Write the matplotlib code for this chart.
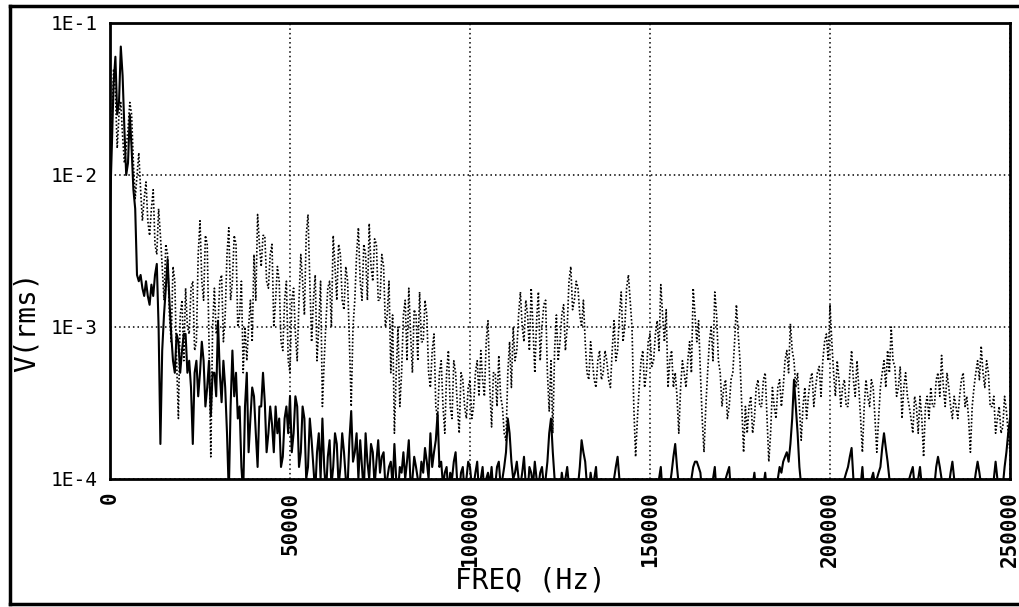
import numpy as np
import matplotlib
matplotlib.use("Agg")
import matplotlib.pyplot as plt
from matplotlib.lines import Line2D

# spectrum read every 1 kHz (0 .. 250 kHz) plus the half-kHz points between
freq_khz = np.arange(0, 251)
half_khz = np.arange(0, 250) + 0.5

# upper trace (dotted), V(rms) in mV, at the whole-kHz points
upper_mv = [
    30, 50, 15, 30, 12, 20, 25, 7, 14, 5,
    9, 4, 8, 3, 4, 1.5, 3, 0.8, 2, 0.25,
    1.5, 1.8, 0.9, 2.0, 0.8, 5.0, 1.5, 3.5, 0.14, 1.8,
    1.0, 2.2, 1.2, 4.5, 2.0, 3.5, 1.2, 0.5, 0.6, 1.5,
    3.0, 5.5, 2.5, 4.0, 1.8, 3.5, 1.5, 2.0, 0.7, 2.0,
    0.5, 1.8, 0.6, 3.0, 1.2, 5.5, 0.8, 2.2, 1.0, 0.3,
    1.1, 2.0, 4.0, 1.5, 3.0, 1.3, 2.0, 0.3, 1.5, 4.5,
    1.5, 3.0, 4.8, 2.0, 3.5, 1.5, 2.5, 1.2, 0.5, 0.2,
    1.0, 0.5, 1.5, 1.8, 0.5, 1.2, 1.7, 0.8, 1.2, 0.4,
    0.9, 0.25, 0.6, 0.2, 0.7, 0.25, 0.5, 0.2, 0.45, 0.25,
    0.45, 0.3, 0.6, 0.7, 0.35, 1.1, 0.22, 0.5, 0.65, 0.3,
    0.18, 0.8, 1.0, 0.7, 1.7, 0.8, 1.2, 1.8, 0.5, 1.7,
    1.0, 1.5, 0.28, 0.2, 1.2, 0.8, 1.4, 1.0, 2.5, 1.5,
    1.8, 1.0, 0.8, 0.45, 0.6, 0.4, 0.7, 0.5, 0.6, 0.4,
    1.1, 0.7, 1.7, 1.0, 2.2, 1.0, 0.14, 0.4, 0.7, 0.5,
    0.9, 0.6, 1.1, 1.9, 0.8, 0.4, 0.7, 0.5, 0.2, 0.6,
    0.4, 0.8, 1.8, 0.8, 0.5, 0.15, 0.5, 1.0, 1.7, 0.6,
    0.3, 0.45, 0.3, 0.5, 1.4, 0.6, 0.15, 0.2, 0.35, 0.25,
    0.45, 0.3, 0.5, 0.13, 0.4, 0.25, 0.45, 0.4, 0.7, 1.05,
    0.6, 0.5, 0.18, 0.4, 0.35, 0.5, 0.4, 0.55, 0.6, 0.9,
    1.4, 0.5, 0.6, 0.3, 0.45, 0.3, 0.7, 0.35, 0.4, 0.15,
    0.45, 0.3, 0.4, 0.15, 0.4, 0.6, 0.7, 1.0, 0.55, 0.4,
    0.25, 0.5, 0.3, 0.2, 0.3, 0.35, 0.14, 0.35, 0.4, 0.3,
    0.5, 0.65, 0.3, 0.4, 0.25, 0.3, 0.35, 0.5, 0.35, 0.15,
    0.4, 0.6, 0.75, 0.4, 0.5, 0.3, 0.2, 0.3, 0.22, 0.28,
    0.15,
]

# upper trace at the half-kHz points
upper_half_mv = [
    20, 35, 25, 18, 15, 30, 12, 10, 8, 7,
    5, 6, 3.5, 6, 2.5, 3.5, 1.2, 2.5, 0.6, 1.2,
    0.6, 1.0, 1.8, 0.7, 3.0, 2.0, 4.0, 0.8, 1.0, 0.9,
    2.0, 0.8, 3.0, 1.5, 4.0, 1.0, 2.0, 1.0, 1.0, 0.8,
    1.5, 3.5, 4.0, 2.0, 3.0, 1.0, 2.5, 0.8, 1.5, 0.6,
    1.5, 0.9, 1.5, 2.0, 4.0, 2.0, 1.5, 0.6, 2.0, 0.6,
    1.8, 1.0, 2.5, 3.5, 1.5, 2.5, 0.8, 1.0, 3.0, 2.0,
    3.5, 1.5, 2.5, 3.8, 1.5, 3.0, 1.0, 2.0, 1.2, 0.5,
    0.3, 1.2, 0.6, 0.9, 1.3, 0.6, 0.8, 1.5, 0.5, 0.7,
    0.3, 0.5, 0.3, 0.5, 0.3, 0.6, 0.3, 0.5, 0.3, 0.4,
    0.25, 0.5, 0.35, 0.45, 0.8, 0.4, 0.5, 0.3, 0.35, 0.2,
    0.5, 0.4, 0.6, 1.2, 1.0, 1.5, 0.7, 1.0, 1.1, 0.6,
    1.4, 0.5, 0.6, 0.7, 0.6, 1.2, 0.7, 2.0, 1.3, 2.0,
    1.2, 1.5, 0.5, 0.8, 0.45, 0.6, 0.45, 0.7, 0.45, 0.7,
    0.6, 1.2, 0.8, 1.8, 1.5, 0.3, 0.25, 0.6, 0.4, 0.8,
    0.55, 0.9, 0.7, 1.2, 1.3, 0.6, 0.4, 0.35, 0.4, 0.5,
    0.6, 0.5, 1.2, 1.1, 0.25, 0.3, 0.8, 0.6, 1.2, 0.5,
    0.4, 0.25, 0.45, 0.8, 0.9, 0.3, 0.3, 0.3, 0.2, 0.4,
    0.3, 0.45, 0.25, 0.2, 0.3, 0.4, 0.3, 0.6, 0.5, 0.7,
    0.4, 0.3, 0.3, 0.25, 0.45, 0.3, 0.5, 0.35, 0.8, 0.6,
    0.8, 0.35, 0.45, 0.4, 0.3, 0.5, 0.45, 0.6, 0.25, 0.3,
    0.35, 0.45, 0.25, 0.25, 0.5, 0.4, 0.5, 0.6, 0.35, 0.55,
    0.4, 0.35, 0.25, 0.35, 0.2, 0.25, 0.3, 0.25, 0.3, 0.45,
    0.35, 0.4, 0.5, 0.3, 0.35, 0.25, 0.45, 0.3, 0.25, 0.3,
    0.5, 0.45, 0.5, 0.6, 0.3, 0.35, 0.25, 0.2, 0.35, 0.2,
]

# lower trace (solid), V(rms) in mV, at the whole-kHz points
lower_mv = [
    6, 40, 25, 70, 20, 12, 15, 6, 2.0, 1.8,
    2.0, 1.4, 1.6, 2.6, 0.17, 1.2, 2.8, 0.9, 0.5, 0.8,
    0.7, 0.9, 0.6, 0.17, 0.6, 0.5, 0.6, 0.4, 0.26, 0.5,
    1.1, 0.32, 0.4, 0.08, 0.7, 0.5, 0.3, 0.08, 0.5, 0.25,
    0.35, 0.12, 0.3, 0.32, 0.2, 0.23, 0.3, 0.25, 0.14, 0.3,
    0.35, 0.2, 0.3, 0.15, 0.25, 0.12, 0.18, 0.08, 0.2, 0.25,
    0.08, 0.18, 0.12, 0.17, 0.12, 0.15, 0.09, 0.28, 0.15, 0.1,
    0.12, 0.2, 0.1, 0.15, 0.13, 0.11, 0.15, 0.1, 0.13, 0.17,
    0.08, 0.11, 0.1, 0.18, 0.1, 0.12, 0.09, 0.11, 0.13, 0.2,
    0.15, 0.27, 0.13, 0.11, 0.08, 0.1, 0.15, 0.08, 0.12, 0.1,
    0.12, 0.09, 0.13, 0.1, 0.08, 0.11, 0.12, 0.09, 0.13, 0.1,
    0.15, 0.2, 0.1, 0.13, 0.09, 0.14, 0.08, 0.11, 0.13, 0.09,
    0.12, 0.1, 0.2, 0.15, 0.1, 0.08, 0.09, 0.12, 0.08, 0.1,
    0.09, 0.18, 0.13, 0.08, 0.09, 0.12, 0.09, 0.08, 0.09, 0.08,
    0.1, 0.14, 0.09, 0.08, 0.09, 0.09, 0.1, 0.08, 0.08, 0.09,
    0.08, 0.09, 0.08, 0.12, 0.09, 0.08, 0.11, 0.17, 0.09, 0.08,
    0.09, 0.08, 0.12, 0.13, 0.11, 0.08, 0.09, 0.08, 0.12, 0.09,
    0.08, 0.1, 0.12, 0.08, 0.08, 0.08, 0.1, 0.09, 0.08, 0.11,
    0.08, 0.08, 0.11, 0.09, 0.08, 0.08, 0.12, 0.13, 0.15, 0.17,
    0.45, 0.2, 0.09, 0.1, 0.08, 0.08, 0.08, 0.08, 0.08, 0.08,
    0.08, 0.08, 0.08, 0.08, 0.1, 0.12, 0.16, 0.09, 0.08, 0.12,
    0.08, 0.09, 0.11, 0.1, 0.12, 0.2, 0.13, 0.09, 0.08, 0.08,
    0.08, 0.08, 0.1, 0.12, 0.08, 0.12, 0.08, 0.08, 0.08, 0.09,
    0.14, 0.1, 0.08, 0.09, 0.13, 0.08, 0.08, 0.08, 0.08, 0.08,
    0.09, 0.13, 0.09, 0.08, 0.08, 0.08, 0.13, 0.08, 0.09, 0.15,
    0.25,
]

# lower trace at the half-kHz points
lower_half_mv = [
    15, 60, 30, 45, 10, 25, 8, 2.2, 2.2, 1.6,
    1.6, 1.9, 2.2, 1.0, 0.7, 1.8, 1.5, 0.6, 0.9, 0.5,
    0.9, 0.5, 0.4, 0.5, 0.35, 0.8, 0.3, 0.6, 0.5, 0.35,
    0.5, 0.6, 0.2, 0.3, 0.35, 0.25, 0.12, 0.3, 0.15, 0.4,
    0.2, 0.3, 0.5, 0.15, 0.3, 0.15, 0.2, 0.12, 0.25, 0.2,
    0.15, 0.35, 0.12, 0.3, 0.1, 0.25, 0.12, 0.15, 0.1, 0.12,
    0.14, 0.09, 0.2, 0.09, 0.2, 0.1, 0.18, 0.13, 0.2, 0.18,
    0.08, 0.13, 0.17, 0.09, 0.18, 0.14, 0.09, 0.12, 0.09, 0.1,
    0.12, 0.15, 0.13, 0.09, 0.14, 0.1, 0.13, 0.16, 0.1, 0.12,
    0.18, 0.12, 0.09, 0.12, 0.11, 0.13, 0.09, 0.11, 0.08, 0.13,
    0.09, 0.11, 0.08, 0.12, 0.1, 0.09, 0.08, 0.12, 0.09, 0.12,
    0.25, 0.13, 0.11, 0.1, 0.11, 0.09, 0.12, 0.09, 0.1, 0.11,
    0.09, 0.13, 0.25, 0.1, 0.09, 0.11, 0.1, 0.09, 0.09, 0.08,
    0.12, 0.15, 0.09, 0.11, 0.1, 0.08, 0.1, 0.08, 0.08, 0.09,
    0.12, 0.1, 0.08, 0.08, 0.08, 0.09, 0.08, 0.09, 0.08, 0.08,
    0.08, 0.08, 0.1, 0.08, 0.08, 0.09, 0.14, 0.12, 0.08, 0.08,
    0.08, 0.1, 0.13, 0.12, 0.08, 0.08, 0.08, 0.1, 0.08, 0.08,
    0.09, 0.11, 0.08, 0.08, 0.08, 0.09, 0.08, 0.08, 0.09, 0.08,
    0.08, 0.09, 0.08, 0.08, 0.08, 0.1, 0.11, 0.14, 0.13, 0.25,
    0.3, 0.12, 0.08, 0.08, 0.08, 0.08, 0.08, 0.08, 0.08, 0.08,
    0.08, 0.08, 0.08, 0.09, 0.11, 0.14, 0.1, 0.08, 0.09, 0.08,
    0.08, 0.1, 0.09, 0.11, 0.16, 0.16, 0.1, 0.08, 0.08, 0.08,
    0.08, 0.09, 0.11, 0.09, 0.1, 0.09, 0.08, 0.08, 0.08, 0.12,
    0.12, 0.08, 0.08, 0.11, 0.1, 0.08, 0.08, 0.08, 0.08, 0.08,
    0.11, 0.11, 0.08, 0.08, 0.08, 0.1, 0.1, 0.08, 0.12, 0.2,
]

x_ticks = [0, 50000, 100000, 150000, 200000, 250000]
x_ticklabels = ["0", "50000", "100000", "150000", "200000", "250000"]
y_ticks = [1e-4, 1e-3, 1e-2, 1e-1]
y_ticklabels = ["1E-4", "1E-3", "1E-2", "1E-1"]


def merge(whole, half):
    # put the whole- and half-kHz readings back in frequency order
    f = np.concatenate([freq_khz, half_khz])
    v = np.concatenate([whole, half])
    order = np.argsort(f)
    return f[order] * 1000, v[order] * 1e-3


mono = "DejaVu Sans Mono"
W, H = 1019, 607

fig = plt.figure(figsize=(W / 100, H / 100), dpi=100)
ax = fig.add_axes([110 / W, (H - 479) / H, 900 / W, 456 / H])

fu, vu = merge(upper_mv, upper_half_mv)
fl, vl = merge(lower_mv, lower_half_mv)
ax.plot(fu, vu, color="black", lw=1.2, linestyle=(0, (1, 1.2)))
ax.plot(fl, vl, color="black", lw=1.5)

ax.set_yscale("log")
ax.set_xlim(0, 250000)
ax.set_ylim(1e-4, 1e-1)

ax.set_xticks(x_ticks)
ax.set_xticklabels(x_ticklabels, rotation=90, family=mono,
                   fontsize=15, fontweight="bold", va="top")
ax.set_yticks(y_ticks)
ax.set_yticklabels(y_ticklabels, family=mono, fontsize=14)
ax.yaxis.set_minor_locator(matplotlib.ticker.NullLocator())
ax.tick_params(axis="both", length=0)
ax.tick_params(axis="x", pad=9)
ax.tick_params(axis="y", pad=9)

ax.grid(True, which="major", color="black", lw=1.1,
        linestyle=(0, (1, 2)))

for sp in ax.spines.values():
    sp.set_linewidth(2)
    sp.set_color("black")

fig.text(530 / W, 1 - 581 / H, "FREQ (Hz)", family=mono, fontsize=20,
         ha="center", va="center")
fig.text(27 / W, 1 - 322 / H, "V(rms)", family=mono, fontsize=20,
         rotation=90, ha="center", va="center")

# outer frame round the whole plot
frame_kw = dict(color="black", lw=2.5, transform=fig.transFigure)
left, right = 10 / W, 1.01
top, bottom = 1 - 6 / H, 1 - 604 / H
fig.add_artist(Line2D([left, right], [top, top], **frame_kw))
fig.add_artist(Line2D([left, right], [bottom, bottom], **frame_kw))
fig.add_artist(Line2D([left, left], [bottom, top], **frame_kw))

fig.savefig("out.png", dpi=100)
